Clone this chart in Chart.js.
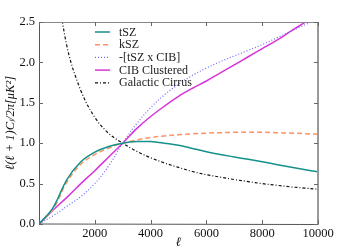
<!DOCTYPE html>
<html>
<head>
<meta charset="utf-8">
<script src="https://cdn.jsdelivr.net/npm/chart.js@4/dist/chart.umd.min.js"></script>
<style>
  html, body { margin: 0; padding: 0; background: #fff; }
  #wrap { width: 355px; height: 250px; }
  #warm { position: absolute; left: 0; top: 300px; font-family: 'Liberation Serif'; font-size: 12px; }
</style>
</head>
<body>
<div id="wrap"><canvas id="chart" width="355" height="250"></canvas></div>
<div id="warm">2000 tSZ <i>ℓ μK</i></div>
<script>
// multipoles shared by the model curves
var ell = [0, 500, 1000, 1500, 2000, 2500, 3000, 3500, 4000, 4500, 5000, 5500, 6000, 6500, 7000, 7500, 8000, 8500, 9000, 9500, 10000];
var tszValues = [0, 0.2, 0.55, 0.77, 0.89, 0.96, 1.0, 1.02, 1.02, 1.0, 0.975, 0.935, 0.895, 0.86, 0.83, 0.8, 0.77, 0.737, 0.705, 0.675, 0.645];
var kszValues = [0, 0.18, 0.52, 0.74, 0.86, 0.94, 1.0, 1.04, 1.07, 1.09, 1.105, 1.115, 1.125, 1.13, 1.135, 1.137, 1.135, 1.13, 1.125, 1.118, 1.11];
var crossValues = [0, 0.1, 0.22, 0.34, 0.5, 0.72, 1.0, 1.24, 1.44, 1.6, 1.73, 1.84, 1.93, 2.01, 2.08, 2.15, 2.22, 2.3, 2.38, 2.46, 2.54];
var cibValues = [0, 0.17, 0.33, 0.5, 0.66, 0.83, 1.0, 1.18, 1.33, 1.46, 1.58, 1.68, 1.77, 1.87, 1.97, 2.07, 2.17, 2.27, 2.38, 2.49, 2.6];

// galactic cirrus has its own multipoles
var cirrusEll = [500, 1000, 1500, 2000, 2500, 3000, 3500, 4000, 4500, 5000, 5500, 6000, 6500, 7000, 7500, 8000, 8500, 9000, 9500, 10000];
var cirrusValues = [3.3, 2.2, 1.65, 1.32, 1.12, 1.0, 0.9, 0.82, 0.755, 0.7, 0.65, 0.61, 0.58, 0.55, 0.525, 0.5, 0.48, 0.46, 0.445, 0.43];

var seriesNames = ['tSZ', 'kSZ', '-[tSZ x CIB]', 'CIB Clustered', 'Galactic Cirrus'];
var xTicks = [0, 2000, 4000, 6000, 8000, 10000];
var yTicks = [0, 0.5, 1.0, 1.5, 2.0, 2.5];

var serifFamily = "'Liberation Serif'";

function pairs(xs, ys) {
    return xs.map(function (x, i) { return { x: x, y: ys[i] }; });
}

// draws frame, inward ticks and the legend inside the plot
var framePlugin = {
    id: 'frame',
    afterDraw: function (chart) {
        var ctx = chart.ctx;
        var a = chart.chartArea;
        var xs = chart.scales.x, ys = chart.scales.y;
        ctx.save();
        // spines
        ctx.lineWidth = 1;
        ctx.strokeStyle = '#555';
        ctx.beginPath();
        ctx.moveTo(a.left + 0.5, a.top);
        ctx.lineTo(a.left + 0.5, a.bottom);
        ctx.lineTo(a.right, a.bottom + 0.5);
        ctx.stroke();
        ctx.strokeStyle = '#888';
        ctx.beginPath();
        ctx.moveTo(a.left, a.top + 0.5);
        ctx.lineTo(a.right, a.top + 0.5);
        ctx.stroke();
        ctx.strokeStyle = '#999';
        ctx.lineWidth = 2;
        ctx.beginPath();
        ctx.moveTo(a.right, a.top);
        ctx.lineTo(a.right, a.bottom + 1);
        ctx.stroke();
        // inward ticks
        ctx.lineWidth = 1;
        ctx.strokeStyle = '#666';
        xTicks.forEach(function (v) {
            var px = Math.round(xs.getPixelForValue(v)) + 0.5;
            ctx.beginPath();
            ctx.moveTo(px, a.bottom); ctx.lineTo(px, a.bottom - 4);
            ctx.moveTo(px, a.top); ctx.lineTo(px, a.top + 4);
            ctx.stroke();
        });
        yTicks.forEach(function (v) {
            var py = Math.round(ys.getPixelForValue(v)) + 0.5;
            ctx.beginPath();
            ctx.moveTo(a.left, py); ctx.lineTo(a.left + 4, py);
            ctx.moveTo(a.right, py); ctx.lineTo(a.right - 4, py);
            ctx.stroke();
        });
        // legend
        ctx.font = "12px 'Liberation Serif'";
        ctx.textBaseline = 'middle';
        ctx.fillStyle = '#222';
        chart.data.datasets.forEach(function (ds, i) {
            var y = 32 + i * 12.7;
            ctx.strokeStyle = ds.borderColor;
            ctx.lineWidth = ds.borderWidth;
            ctx.setLineDash(ds.borderDash || []);
            ctx.beginPath();
            ctx.moveTo(95, y); ctx.lineTo(110, y);
            ctx.stroke();
            ctx.setLineDash([]);
            ctx.fillText(ds.label, 119, y + 0.5);
        });
        ctx.restore();
    }
};

function lineSet(label, data, color, width, dash) {
    return {
        label: label,
        data: data,
        borderColor: color,
        backgroundColor: color,
        borderWidth: width,
        borderDash: dash,
        pointRadius: 0,
        fill: false,
        tension: 0.35,
        clip: 0
    };
}

function draw() {
    Chart.defaults.font.family = serifFamily;
    var ctx = document.getElementById('chart');
    var myChart = new Chart(ctx, {
        type: 'line',
        data: {
            datasets: [
                lineSet(seriesNames[0], pairs(ell, tszValues), '#14918a', 1.5, []),
                lineSet(seriesNames[1], pairs(ell, kszValues), '#fb9466', 1.5, [5, 3]),
                lineSet(seriesNames[2], pairs(ell, crossValues), '#6a6aff', 1.2, [1, 2]),
                lineSet(seriesNames[3], pairs(ell, cibValues), '#d933d9', 1.5, []),
                lineSet(seriesNames[4], pairs(cirrusEll, cirrusValues), '#111', 1.2, [3, 2, 1, 2])
            ]
        },
        options: {
            responsive: false,
            animation: false,
            events: [],
            layout: { padding: { top: 22, right: 37, left: 0, bottom: 0 } },
            plugins: { legend: { display: false }, tooltip: { enabled: false } },
            scales: {
                x: {
                    type: 'linear',
                    min: 0,
                    max: 10000,
                    grid: { display: false, drawTicks: false },
                    border: { display: false },
                    afterBuildTicks: function (scale) {
                        scale.ticks = xTicks.map(function (v) { return { value: v }; });
                    },
                    afterFit: function (scale) { scale.height = 26; },
                    ticks: {
                        color: '#111',
                        font: { family: serifFamily, size: 12.5 },
                        padding: 2,
                        maxRotation: 0,
                        callback: function (v) { return v === 0 ? '' : String(v); }
                    },
                    title: {
                        display: true,
                        text: 'ℓ',
                        color: '#111',
                        font: { family: serifFamily, size: 13, style: 'italic', lineHeight: 1.1 },
                        padding: 0
                    }
                },
                y: {
                    min: 0,
                    max: 2.5,
                    grid: { display: false, drawTicks: false },
                    border: { display: false },
                    afterBuildTicks: function (scale) {
                        scale.ticks = yTicks.map(function (v) { return { value: v }; });
                    },
                    afterFit: function (scale) { scale.width = 39; },
                    ticks: {
                        color: '#111',
                        font: { family: serifFamily, size: 12.5 },
                        padding: 4,
                        callback: function (v) { return v.toFixed(1); }
                    },
                    title: {
                        display: true,
                        text: 'ℓ(ℓ + 1)Cₗ/2π[μK²]',
                        color: '#111',
                        font: { family: serifFamily, size: 12.5, style: 'italic', lineHeight: 1.2 },
                        padding: { top: 3, bottom: 0 }
                    }
                }
            }
        },
        plugins: [framePlugin]
    });
}

// make sure the serif face is loaded before the canvas uses it
document.getElementById('warm').offsetWidth;
window.addEventListener('load', function () {
    if (document.fonts && document.fonts.ready) {
        document.fonts.ready.then(draw);
    } else {
        draw();
    }
});
</script>
</body>
</html>
